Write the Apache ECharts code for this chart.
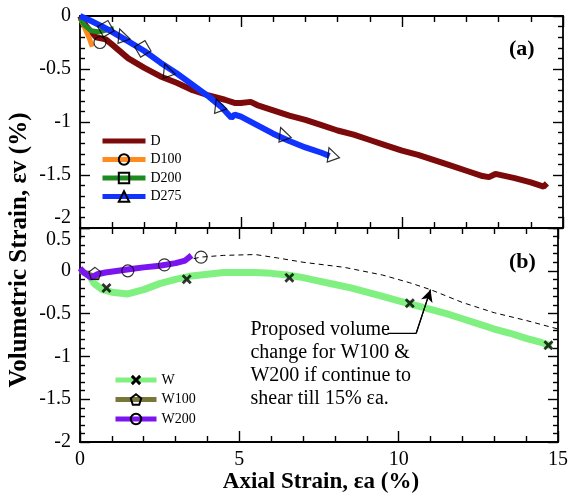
<!DOCTYPE html>
<html>
<head>
<meta charset="utf-8">
<script src="https://cdn.jsdelivr.net/npm/echarts@6/dist/echarts.min.js"></script>
<style>
html,body{margin:0;padding:0;background:#fff;}
#chart{width:571px;height:502px;}
</style>
</head>
<body>
<div id="chart"></div>
<script>
// ---------- Data ----------
// Panel (a)
const D_x = [0, 0.2, 0.5, 0.8, 1.0, 1.5, 2.0, 2.5, 3.0, 3.5, 4.0, 4.5, 4.8, 5.0, 5.3, 5.5, 6.0, 6.5, 7.0, 7.5, 8.0, 8.5, 9.0, 9.5, 10.0, 10.5, 11.0, 11.5, 12.0, 12.5, 12.7, 12.9, 13.5, 14.0, 14.4, 14.5];
const D_y = [0, -0.1, -0.2, -0.22, -0.27, -0.40, -0.49, -0.57, -0.63, -0.70, -0.75, -0.79, -0.82, -0.82, -0.81, -0.84, -0.89, -0.94, -0.98, -1.03, -1.08, -1.12, -1.17, -1.22, -1.27, -1.31, -1.36, -1.41, -1.46, -1.51, -1.52, -1.49, -1.53, -1.57, -1.61, -1.58];

const D100_x = [0, 0.1, 0.2, 0.3, 0.38];
const D100_y = [-0.02, -0.08, -0.15, -0.22, -0.29];
const D100_mx = [0.62];
const D100_my = [-0.25];

const D200_x = [0, 0.15, 0.35, 0.6, 0.85, 1.05];
const D200_y = [-0.02, -0.09, -0.14, -0.15, -0.13, -0.12];
const D200_mx = [0.8, 1.95];
const D200_my = [-0.12, -0.31];

const D275_x = [0, 0.3, 0.7, 1.0, 1.5, 2.0, 2.5, 3.0, 3.5, 4.0, 4.4, 4.7, 4.8, 5.0, 5.5, 6.0, 6.5, 7.0, 7.5, 7.75];
const D275_y = [0, -0.04, -0.10, -0.15, -0.24, -0.33, -0.44, -0.54, -0.65, -0.76, -0.86, -0.96, -0.93, -0.95, -1.03, -1.11, -1.18, -1.24, -1.29, -1.32];
const D275_mx = [1.3, 2.7, 4.3, 6.3, 7.8];
const D275_my = [-0.18, -0.51, -0.84, -1.11, -1.30];

// Panel (b)
const W_x = [0.3, 0.45, 0.7, 1.0, 1.5, 2.0, 2.5, 3.0, 3.5, 4.0, 4.5, 5.0, 5.5, 6.0, 6.5, 7.0, 7.5, 8.0, 8.5, 9.0, 9.5, 10.0, 10.5, 11.0, 11.5, 12.0, 12.5, 13.0, 13.5, 14.0, 14.5, 14.8];
const W_y = [-0.06, -0.15, -0.22, -0.25, -0.27, -0.22, -0.15, -0.10, -0.06, -0.04, -0.02, -0.02, -0.02, -0.03, -0.05, -0.08, -0.12, -0.16, -0.20, -0.25, -0.30, -0.35, -0.40, -0.45, -0.50, -0.56, -0.62, -0.68, -0.73, -0.79, -0.84, -0.88];
const W_mx = [0.83, 3.35, 6.57, 10.35, 14.7];
const W_my = [-0.20, -0.10, -0.08, -0.38, -0.87];

const W100_x = [0, 0.3, 0.6];
const W100_y = [0, -0.05, -0.08];
const W100_mx = [0.47];
const W100_my = [-0.03];

const W200_x = [0, 0.15, 0.35, 0.55, 0.8, 1.2, 1.6, 2.0, 2.5, 3.0, 3.3, 3.5];
const W200_y = [0.03, -0.03, -0.08, -0.04, -0.02, 0.0, 0.02, 0.04, 0.06, 0.09, 0.12, 0.18];
const W200_mx = [1.5, 2.65, 3.8];
const W200_my = [0.0, 0.07, 0.16];

// Proposed (dashed) curve
const P_x = [0.5, 1.5, 2.65, 3.8, 4.5, 5.5, 6.2, 7.0, 8.3, 9.5, 10.35, 11.0, 12.0, 13.0, 14.0, 15.0];
const P_y = [-0.04, 0.0, 0.07, 0.16, 0.18, 0.19, 0.15, 0.10, 0.04, -0.05, -0.14, -0.22, -0.37, -0.49, -0.58, -0.68];

// Leader arrow (data coords)
const arrow_x = [9.65, 10.55, 11.0];
const arrow_y = [-0.73, -0.73, -0.22];

// Axis ticks
const xTicks = [0, 5, 10, 15];
const yTicksA = [0, -0.5, -1, -1.5, -2];
const yTicksB = [0.5, 0, -0.5, -1, -1.5, -2];

const annotation = ['Proposed volume', 'change for W100 &', 'W200 if continue to', 'shear till 15% εa.'];

// ---------- Helpers ----------
const zip = (a, b) => a.map((v, i) => [v, b[i]]);
const SERIF = '"Liberation Serif","DejaVu Serif",serif';
const X_PATH = 'path://M2,0 L5,3 L8,0 L10,2 L7,5 L10,8 L8,10 L5,7 L2,10 L0,8 L3,5 L0,2 Z';
const PENT_PATH = 'path://M5,0 L10,3.8 L8.1,10 L1.9,10 L0,3.8 Z';
const BAR_ICON = 'path://M0,0 L44,0 L44,5 L0,5 Z';

function lineSeries(name, xs, ys, color, width, symbol, grid, markerFill) {
  return {
    name: name, type: 'line', data: zip(xs, ys),
    xAxisIndex: grid * 2, yAxisIndex: grid * 2,
    showSymbol: false, symbol: symbol, symbolSize: 11,
    lineStyle: { color: color, width: width },
    itemStyle: { color: markerFill || 'rgba(255,255,255,0)', borderColor: '#000', borderWidth: markerFill ? 0 : 1.2 },
    z: 2, animation: false, silent: true
  };
}
function markerSeries(xs, ys, symbol, size, grid, filled, rot) {
  return {
    type: 'scatter', data: zip(xs, ys), xAxisIndex: grid * 2, yAxisIndex: grid * 2,
    symbol: symbol, symbolSize: size, symbolRotate: rot || 0,
    itemStyle: filled ? { color: '#000' } : { color: 'rgba(255,255,255,0)', borderColor: '#000', borderWidth: 1.2 },
    z: 5, animation: false, silent: true
  };
}

const GRID_A = { left: 80, right: 8, top: 16, height: 212 };
const GRID_B = { left: 80, right: 8, top: 228, height: 214 };

function xAxis(grid, pos, showLabel) {
  return {
    type: 'value', gridIndex: grid, position: pos, min: 0, max: 15, interval: 5,
    axisLine: { show: true, onZero: false, lineStyle: { color: '#000', width: 1.8 } },
    axisTick: { show: true, inside: true, length: 11, lineStyle: { color: '#000', width: 1.4 } },
    minorTick: { show: true, splitNumber: 5, length: 6, lineStyle: { color: '#000', width: 1.4 } },
    splitLine: { show: false },
    axisLabel: { show: showLabel, color: '#000', fontFamily: SERIF, fontSize: 20, margin: 8,
      formatter: v => (xTicks.indexOf(v) >= 0 ? String(v) : '') }
  };
}
function yAxis(grid, pos, min, max, showLabel, ticks, shiftMap) {
  return {
    type: 'value', gridIndex: grid, position: pos, min: min, max: max, interval: 0.5,
    axisLine: { show: true, onZero: false, lineStyle: { color: '#000', width: 1.8 } },
    axisTick: { show: true, inside: true, length: 10, lineStyle: { color: '#000', width: 1.4 } },
    minorTick: { show: true, splitNumber: 5, length: 5, lineStyle: { color: '#000', width: 1.4 } },
    splitLine: { show: false },
    axisLabel: {
      show: showLabel, color: '#000', fontFamily: SERIF, fontSize: 20, margin: 9,
      formatter: function (v) {
        const r = Math.round(v * 10) / 10;
        if (ticks.indexOf(r) < 0) return '';
        const key = shiftMap && shiftMap[String(r)];
        return key ? '{' + key + '|' + r + '}' : String(r);
      },
      rich: {
        up: { fontFamily: SERIF, fontSize: 20, color: '#000', padding: [0, 0, 20, 0] },
        down: { fontFamily: SERIF, fontSize: 20, color: '#000', padding: [24, 0, 0, 0] }
      }
    }
  };
}

const chart = echarts.init(document.getElementById('chart'), null, { renderer: 'canvas' });

const legendText = { fontFamily: SERIF, fontSize: 14, color: '#000' };
const option = {
  backgroundColor: '#fff',
  animation: false,
  grid: [GRID_A, GRID_B],
  xAxis: [xAxis(0, 'bottom', false), xAxis(0, 'top', false), xAxis(1, 'bottom', true), xAxis(1, 'top', false)],
  yAxis: [
    yAxis(0, 'left', -2, 0, true, yTicksA, { '-2': 'up' }),
    yAxis(0, 'right', -2, 0, false, yTicksA),
    yAxis(1, 'left', -2, 0.5, true, yTicksB, { '0.5': 'down' }),
    yAxis(1, 'right', -2, 0.5, false, yTicksB)
  ],
  legend: [
    {
      data: [{ name: 'D', icon: BAR_ICON }, 'D100', 'D200', 'D275'], orient: 'vertical', left: 100, top: 134,
      itemWidth: 43, itemHeight: 13, itemGap: 4.5, padding: 0,
      lineStyle: { width: 5 },
      textStyle: legendText, selectedMode: false
    },
    {
      data: ['W', 'W100', 'W200'], orient: 'vertical', left: 113, top: 373,
      itemWidth: 41, itemHeight: 13, itemGap: 5.5, padding: 0,
      lineStyle: { width: 5 },
      textStyle: legendText, selectedMode: false
    }
  ],
  title: [
    { text: '(a)', left: 509, top: 38, padding: 0, textStyle: { fontFamily: SERIF, fontSize: 22, fontWeight: 'bold', color: '#000' } },
    { text: '(b)', left: 509, top: 251, padding: 0, textStyle: { fontFamily: SERIF, fontSize: 22, fontWeight: 'bold', color: '#000' } }
  ],
  series: [
    lineSeries('D', D_x, D_y, '#7d0a0a', 6, 'none', 0, '#7d0a0a'),
    lineSeries('D100', D100_x, D100_y, '#ff8a1e', 5, 'circle', 0),
    lineSeries('D200', D200_x, D200_y, '#1f8a1f', 5, 'rect', 0),
    lineSeries('D275', D275_x, D275_y, '#1133ff', 6, 'triangle', 0),
    markerSeries(D100_mx, D100_my, 'circle', 12, 0, false),
    markerSeries(D200_mx, D200_my, 'rect', 12, 0, false, 30),
    markerSeries(D275_mx, D275_my, 'triangle', 13, 0, false, 20),
    {
      type: 'line', data: zip(P_x, P_y), xAxisIndex: 2, yAxisIndex: 2, showSymbol: false,
      lineStyle: { color: '#000', width: 1, type: [5, 4] }, z: 1, animation: false, silent: true
    },
    lineSeries('W', W_x, W_y, '#80f080', 7, X_PATH, 1, '#000'),
    lineSeries('W100', W100_x, W100_y, '#77773a', 6, PENT_PATH, 1),
    lineSeries('W200', W200_x, W200_y, '#7a14f0', 6, 'circle', 1),
    markerSeries(W_mx, W_my, X_PATH, 10, 1, true),
    markerSeries(W100_mx, W100_my, PENT_PATH, 12, 1, false),
    markerSeries(W200_mx, W200_my, 'circle', 12, 1, false),
    {
      type: 'line', data: zip(arrow_x, arrow_y), xAxisIndex: 2, yAxisIndex: 2, showSymbol: false,
      lineStyle: { color: '#000', width: 1.2 }, z: 6, animation: false, silent: true,
      markLine: {
        silent: true, symbol: ['none', 'arrow'], symbolSize: [9, 12], label: { show: false },
        lineStyle: { color: '#000', width: 1.2, type: 'solid' },
        data: [[{ coord: [arrow_x[1], arrow_y[1]] }, { coord: [arrow_x[2], arrow_y[2]] }]]
      }
    }
  ]
};
chart.setOption(option);

// Rotated y title + x title + annotation text
const yTitleCenter = 250;
const annoPos = chart.convertToPixel({ xAxisIndex: 2, yAxisIndex: 2 }, [5.35, -0.56]);
chart.setOption({
  graphic: [
    {
      type: 'text', rotation: Math.PI / 2, x: 20, y: yTitleCenter,
      style: { text: 'Volumetric Strain, εv (%)', font: 'bold 25px ' + SERIF, fill: '#000', align: 'center', verticalAlign: 'middle' }
    },
    {
      type: 'text', x: 321, y: 482,
      style: { text: 'Axial Strain, εa (%)', font: 'bold 23px ' + SERIF, fill: '#000', align: 'center', verticalAlign: 'middle' }
    },
    {
      type: 'text', x: annoPos[0], y: annoPos[1],
      style: { text: annotation.join('\n'), font: '20px ' + SERIF, lineHeight: 23, fill: '#000', verticalAlign: 'top' }
    }
  ]
});
</script>
</body>
</html>
